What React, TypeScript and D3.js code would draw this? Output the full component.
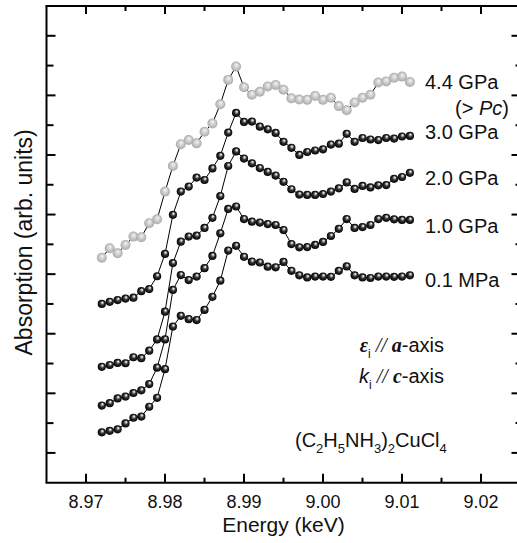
import React from "react";
import * as d3 from "d3";

const energies = [
  8.972, 8.973, 8.974, 8.975, 8.976, 8.977, 8.978, 8.979, 8.98, 8.981,
  8.982, 8.983, 8.984, 8.985, 8.986, 8.987, 8.988, 8.989, 8.99, 8.991,
  8.992, 8.993, 8.994, 8.995, 8.996, 8.997, 8.998, 8.999, 9.0, 9.001,
  9.002, 9.003, 9.004, 9.005, 9.006, 9.007, 9.008, 9.009, 9.01, 9.011,
];

const gpa44 = [
  7.55, 7.87, 7.7, 7.98, 8.26, 8.24, 8.71, 8.84, 9.77, 10.63,
  11.36, 11.5, 11.39, 11.78, 12.06, 12.7, 13.52, 13.97, 13.27, 13.02,
  13.12, 13.3, 13.35, 13.19, 12.9, 12.86, 12.85, 12.98, 12.85, 12.92,
  12.64, 12.5, 12.76, 12.92, 13.02, 13.43, 13.47, 13.59, 13.63, 13.45,
];
const gpa30 = [
  6.0, 6.07, 6.13, 6.18, 6.21, 6.43, 6.5, 6.93, 7.68, 8.99,
  9.77, 9.94, 10.24, 10.16, 10.55, 10.97, 11.75, 12.41, 12.11, 12.12,
  11.95, 11.86, 11.74, 11.44, 11.24, 11.0, 11.1, 11.15, 11.19, 11.35,
  11.38, 11.71, 11.44, 11.57, 11.52, 11.5, 11.57, 11.55, 11.62, 11.64,
];
const gpa20 = [
  3.89, 3.95, 4.02, 4.01, 4.21, 4.18, 4.43, 4.81, 5.74, 7.37,
  8.09, 8.26, 8.29, 8.55, 8.89, 9.62, 10.63, 11.12, 10.88, 10.72,
  10.56, 10.43, 10.31, 10.1, 9.85, 9.67, 9.66, 9.66, 9.69, 9.77,
  9.88, 10.08, 9.86, 9.96, 9.91, 9.98, 9.99, 10.2, 10.26, 10.4,
];
const gpa10 = [
  2.59, 2.67, 2.83, 2.89, 3.01, 3.1, 3.31, 3.86, 4.81, 6.47,
  6.97, 6.8, 6.92, 7.2, 7.61, 8.37, 9.19, 9.27, 8.85, 8.76,
  8.73, 8.68, 8.65, 8.48, 8.01, 7.9, 7.91, 7.98, 8.08, 8.28,
  8.52, 8.85, 8.55, 8.58, 8.65, 8.85, 8.89, 8.84, 8.82, 8.82,
];
const mpa01 = [
  1.69, 1.74, 1.79, 1.99, 2.18, 2.22, 2.55, 2.85, 3.81, 5.24,
  5.6, 5.49, 5.46, 5.8, 6.24, 6.78, 7.79, 7.95, 7.58, 7.42,
  7.39, 7.25, 7.23, 7.41, 7.11, 6.96, 6.89, 6.92, 6.92, 6.91,
  7.11, 7.26, 6.96, 6.89, 6.87, 6.92, 6.92, 6.91, 6.92, 6.96,
];

const seriesNames = ["4.4 GPa", "3.0 GPa", "2.0 GPa", "1.0 GPa", "0.1 MPa"];
const seriesValues = [gpa44, gpa30, gpa20, gpa10, mpa01];
const seriesGray = [true, false, false, false, false];

const xTickValues = [8.97, 8.98, 8.99, 9.0, 9.01, 9.02];
const xTickLabels = ["8.97", "8.98", "8.99", "9.00", "9.01", "9.02"];
const xMinorValues = [8.975, 8.985, 8.995, 9.005, 9.015];
const yTickValues = [1, 2, 3, 4, 5, 6, 7, 8, 9, 10, 11, 12, 13, 14, 15];

const W = 517;
const H = 543;
const FONT = "'Liberation Sans', Arial, Helvetica, sans-serif";
const SERIF = "'Liberation Serif', 'Times New Roman', serif";

export default function App() {
  const x = d3.scaleLinear().domain([8.965, 9.025]).range([46.5, 520.5]);
  const y = d3.scaleLinear().domain([0, 16]).range([482.7, 6]);
  const line = d3
    .line<[number, number]>()
    .x((d) => x(d[0]))
    .y((d) => y(d[1]));

  const labelY = [88.5, 138.5, 185, 233, 287];

  return (
    <svg
      width={W}
      height={H}
      style={{ position: "absolute", left: 0, top: 0, background: "#fff" }}
      fontFamily={FONT}
    >
      <defs>
        <radialGradient id="ballBlack" cx="0.5" cy="0.5" r="0.5" fx="0.6" fy="0.3">
          <stop offset="0%" stopColor="#ffffff" />
          <stop offset="20%" stopColor="#c0c0c0" />
          <stop offset="50%" stopColor="#333333" />
          <stop offset="100%" stopColor="#000000" />
        </radialGradient>
        <radialGradient id="ballGray" cx="0.5" cy="0.5" r="0.5" fx="0.55" fy="0.32">
          <stop offset="0%" stopColor="#f6f6f6" />
          <stop offset="45%" stopColor="#d2d2d2" />
          <stop offset="100%" stopColor="#aaaaaa" />
        </radialGradient>
      </defs>
      <rect x={0} y={0} width={W} height={H} fill="#fff" />

      {/* series */}
      {seriesValues.map((vals, si) => {
        const pts: [number, number][] = energies.map((e, i) => [e, vals[i]]);
        const gray = seriesGray[si];
        return (
          <g key={si}>
            <path d={line(pts) || ""} fill="none" stroke="#000" strokeWidth={1} />
            {pts.map((p, i) => (
              <circle
                key={i}
                cx={x(p[0])}
                cy={y(p[1])}
                r={gray ? 5 : 4.1}
                fill={gray ? "url(#ballGray)" : "url(#ballBlack)"}
              />
            ))}
          </g>
        );
      })}

      {/* frame */}
      <g stroke="#000" strokeWidth={2} fill="none">
        <line x1={x(8.965)} x2={x(8.965)} y1={y(16)} y2={y(0)} />
        <line x1={x(8.965) - 1} x2={x(9.025)} y1={y(16)} y2={y(16)} />
        <line x1={x(8.965) - 1} x2={x(9.025)} y1={y(0)} y2={y(0)} />
        <line x1={x(9.025)} x2={x(9.025)} y1={y(16)} y2={y(0)} />
      </g>

      {/* ticks */}
      <g stroke="#000" strokeWidth={2}>
        {xTickValues.map((v) => (
          <g key={"M" + v}>
            <line x1={x(v)} x2={x(v)} y1={y(0)} y2={y(0) - 9} />
            <line x1={x(v)} x2={x(v)} y1={y(16)} y2={y(16) + 8} />
          </g>
        ))}
        {xMinorValues.map((v) => (
          <g key={"m" + v}>
            <line x1={x(v)} x2={x(v)} y1={y(0)} y2={y(0) - 5} />
            <line x1={x(v)} x2={x(v)} y1={y(16)} y2={y(16) + 5} />
          </g>
        ))}
        {yTickValues.map((v) => (
          <g key={"y" + v}>
            <line x1={x(8.965)} x2={x(8.965) + (v % 2 === 1 ? 9 : 7)} y1={y(v)} y2={y(v)} />
            <line x1={x(9.025)} x2={x(9.025) - (v % 2 === 1 ? 9 : 5)} y1={y(v)} y2={y(v)} />
          </g>
        ))}
      </g>

      {/* x tick labels */}
      <g fontSize={18} textAnchor="middle" fill="#111">
        {xTickValues.map((v, i) => (
          <text key={v} x={x(v)} y={508}>
            {xTickLabels[i]}
          </text>
        ))}
      </g>

      {/* axis titles */}
      <text x={x(8.995)} y={532} fontSize={21} textAnchor="middle" fill="#111">
        Energy (keV)
      </text>
      <text
        transform={`translate(32, ${y(8) - 2}) rotate(-90)`}
        fontSize={23}
        textAnchor="middle"
        fill="#111"
      >
        Absorption (arb. units)
      </text>

      {/* series labels */}
      <g fontSize={20} fill="#111">
        {seriesNames.map((n, i) => (
          <text key={n} x={425} y={labelY[i]}>
            {n}
          </text>
        ))}
        <text x={509} y={115} textAnchor="end">
          (&gt; <tspan fontStyle="italic">Pc</tspan>)
        </text>
      </g>

      {/* annotations */}
      <g fontSize={20} fill="#111">
        <text x={444} y={352} textAnchor="end">
          <tspan fontFamily={SERIF} fontStyle="italic" fontWeight="bold">ε</tspan>
          <tspan fontSize={12} dy={6}>i</tspan>
          <tspan dy={-6} fontFamily={SERIF} fontStyle="italic"> // </tspan>
          <tspan fontFamily={SERIF} fontStyle="italic" fontWeight="bold">a</tspan>
          <tspan>-axis</tspan>
        </text>
        <text x={444} y={383} textAnchor="end">
          <tspan fontStyle="italic">k</tspan>
          <tspan fontSize={12} dy={6}>i</tspan>
          <tspan dy={-6} fontFamily={SERIF} fontStyle="italic"> // </tspan>
          <tspan fontFamily={SERIF} fontStyle="italic" fontWeight="bold">c</tspan>
          <tspan>-axis</tspan>
        </text>
        <text x={295} y={447}>
          <tspan>(C</tspan>
          <tspan fontSize={13} dy={6}>2</tspan>
          <tspan dy={-6}>H</tspan>
          <tspan fontSize={13} dy={6}>5</tspan>
          <tspan dy={-6}>NH</tspan>
          <tspan fontSize={13} dy={6}>3</tspan>
          <tspan dy={-6}>)</tspan>
          <tspan fontSize={13} dy={6}>2</tspan>
          <tspan dy={-6}>CuCl</tspan>
          <tspan fontSize={13} dy={6}>4</tspan>
        </text>
      </g>
    </svg>
  );
}
